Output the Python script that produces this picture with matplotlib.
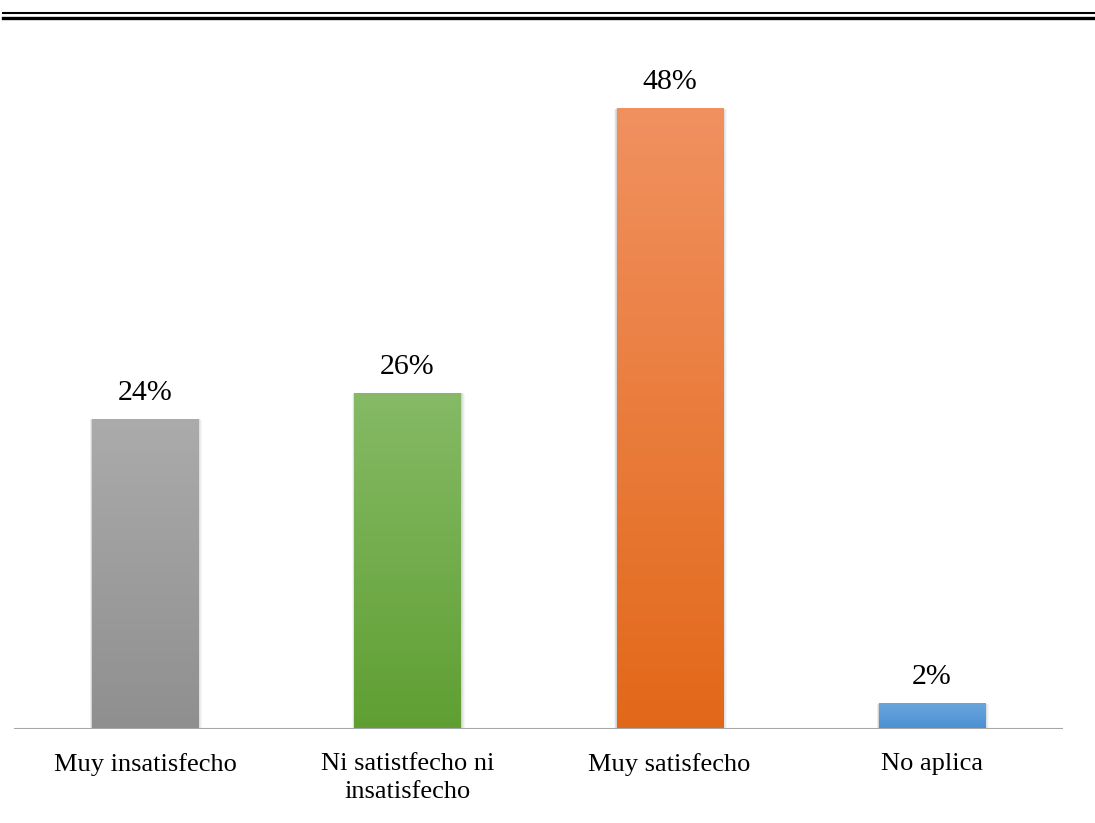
import matplotlib

matplotlib.use("Agg")
import matplotlib.pyplot as plt
import numpy as np
from matplotlib.colors import LinearSegmentedColormap
from matplotlib.lines import Line2D
from matplotlib.patches import Rectangle

categories = ["Muy insatisfecho", "Ni satistfecho ni\ninsatisfecho", "Muy satisfecho", "No aplica"]
values = [24, 26, 48, 2]
# (top colour, bottom colour) for each bar's vertical gradient
gradients = [
    ("#ababab", "#8f8f8f"),
    ("#86ba66", "#5f9f32"),
    ("#f19160", "#e26819"),
    ("#6aa6dc", "#4a90d4"),
]

plt.rcParams["font.family"] = ["Liberation Serif", "DejaVu Serif"]

fig = plt.figure(figsize=(10.95, 8.23), dpi=100)
ax = fig.add_axes([14 / 1095, 1 - 729 / 823, 1049 / 1095, 621 / 823 * 50 / 48])

ax.set_xlim(-0.5, len(categories) - 0.5)
ax.set_ylim(0, 50)

width = 0.405
for i, (val, (top, bottom)) in enumerate(zip(values, gradients)):
    x0 = i - width / 2
    # soft drop shadow
    for k, a in enumerate([0.06, 0.05, 0.04, 0.03]):
        d = 0.004 * (k + 1)
        ax.add_patch(Rectangle((x0 - d * 0.5, -0.25), width + d * 1.5, val + 0.25 - d * 5,
                               facecolor="black", alpha=a, lw=0, zorder=1))
    bar = Rectangle((x0, 0), width, val, facecolor="none", lw=0, zorder=2)
    ax.add_patch(bar)
    cmap = LinearSegmentedColormap.from_list(f"g{i}", [bottom, top])
    grad = np.linspace(0, 1, 256).reshape(-1, 1)
    im = ax.imshow(grad, cmap=cmap, aspect="auto", origin="lower",
                   extent=(x0, x0 + width, 0, val), zorder=2)
    im.set_clip_path(bar)
    ax.text(i, val + 1.0, f"{val}%", ha="center", va="bottom", fontsize=21.5)

ax.set_xlim(-0.5, len(categories) - 0.5)
ax.set_ylim(0, 50)
ax.axhline(0, color="#a6a6a6", lw=1.5, zorder=3)

ax.set_xticks(range(len(categories)))
ax.set_xticklabels(categories, fontsize=19, linespacing=1.4)
ax.tick_params(axis="x", length=0, pad=17)
ax.set_yticks([])
for side in ("top", "right", "left", "bottom"):
    ax.spines[side].set_visible(False)

# double rule across the top of the page
fig.add_artist(Line2D([3 / 1095, 1], [1 - 13 / 823] * 2, color="black", lw=1.5))
fig.add_artist(Line2D([3 / 1095, 1], [1 - 17.5 / 823] * 2, color="black", lw=2.4))

fig.savefig("out.png", dpi=100)
